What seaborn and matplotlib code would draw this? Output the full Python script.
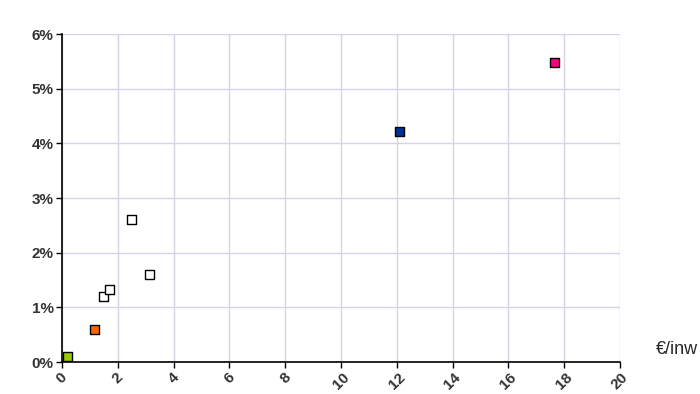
import pandas as pd
import matplotlib.pyplot as plt
import seaborn as sns

# ----------------------------
# Data
# ----------------------------
euro_per_inw = [0.2, 1.15, 1.5, 1.7, 2.5, 3.15, 12.1, 17.65]
share_pct = [0.1, 0.6, 1.2, 1.32, 2.6, 1.6, 4.22, 5.48]
groups = ["g1", "g2", "g3", "g3", "g3", "g3", "g4", "g5"]
group_colors = {"g1": "#99cc00", "g2": "#ff6600", "g3": "#ffffff",
                "g4": "#003399", "g5": "#ff0080"}
x_ticks = list(range(0, 21, 2))
y_ticks = list(range(0, 7))
y_labels = [f"{v}%" for v in y_ticks]

df = pd.DataFrame({"x": euro_per_inw, "y": share_pct, "group": groups})

# ----------------------------
# Chart
# ----------------------------
sns.set_style("white")
plt.rcParams["font.family"] = ["Liberation Sans", "DejaVu Sans"]

fig = plt.figure(figsize=(7, 3.94), dpi=100)
ax = fig.add_axes([0.0886, 0.0812, 0.797, 0.8325])

sns.scatterplot(
    data=df, x="x", y="y", hue="group", palette=group_colors,
    marker="s", s=42, edgecolor="black", linewidth=1.0,
    legend=False, zorder=3, ax=ax
)

ax.set_xlim(0, 20)
ax.set_ylim(0, 6)
ax.set_xticks(x_ticks)
ax.set_yticks(y_ticks)
ax.set_yticklabels(y_labels)
ax.set_xlabel("")
ax.set_ylabel("")

ax.grid(True, color="#d4d4e8", linewidth=1.0)
ax.set_axisbelow(True)
for side in ["top", "right"]:
    ax.spines[side].set_visible(False)
for side in ["left", "bottom"]:
    ax.spines[side].set_color("black")
    ax.spines[side].set_linewidth(1.2)

ax.tick_params(axis="both", direction="out", length=4, width=1,
               colors="black", labelsize=11, bottom=True, left=True, pad=2)
plt.setp(ax.get_xticklabels(), rotation=45, ha="center")
for lbl in ax.get_xticklabels() + ax.get_yticklabels():
    lbl.set_fontweight("bold")
    lbl.set_color("#333333")

fig.text(0.967, 0.112, "\u20ac/inw", fontsize=13, ha="center", va="center")

plt.savefig("out.png", dpi=100)
